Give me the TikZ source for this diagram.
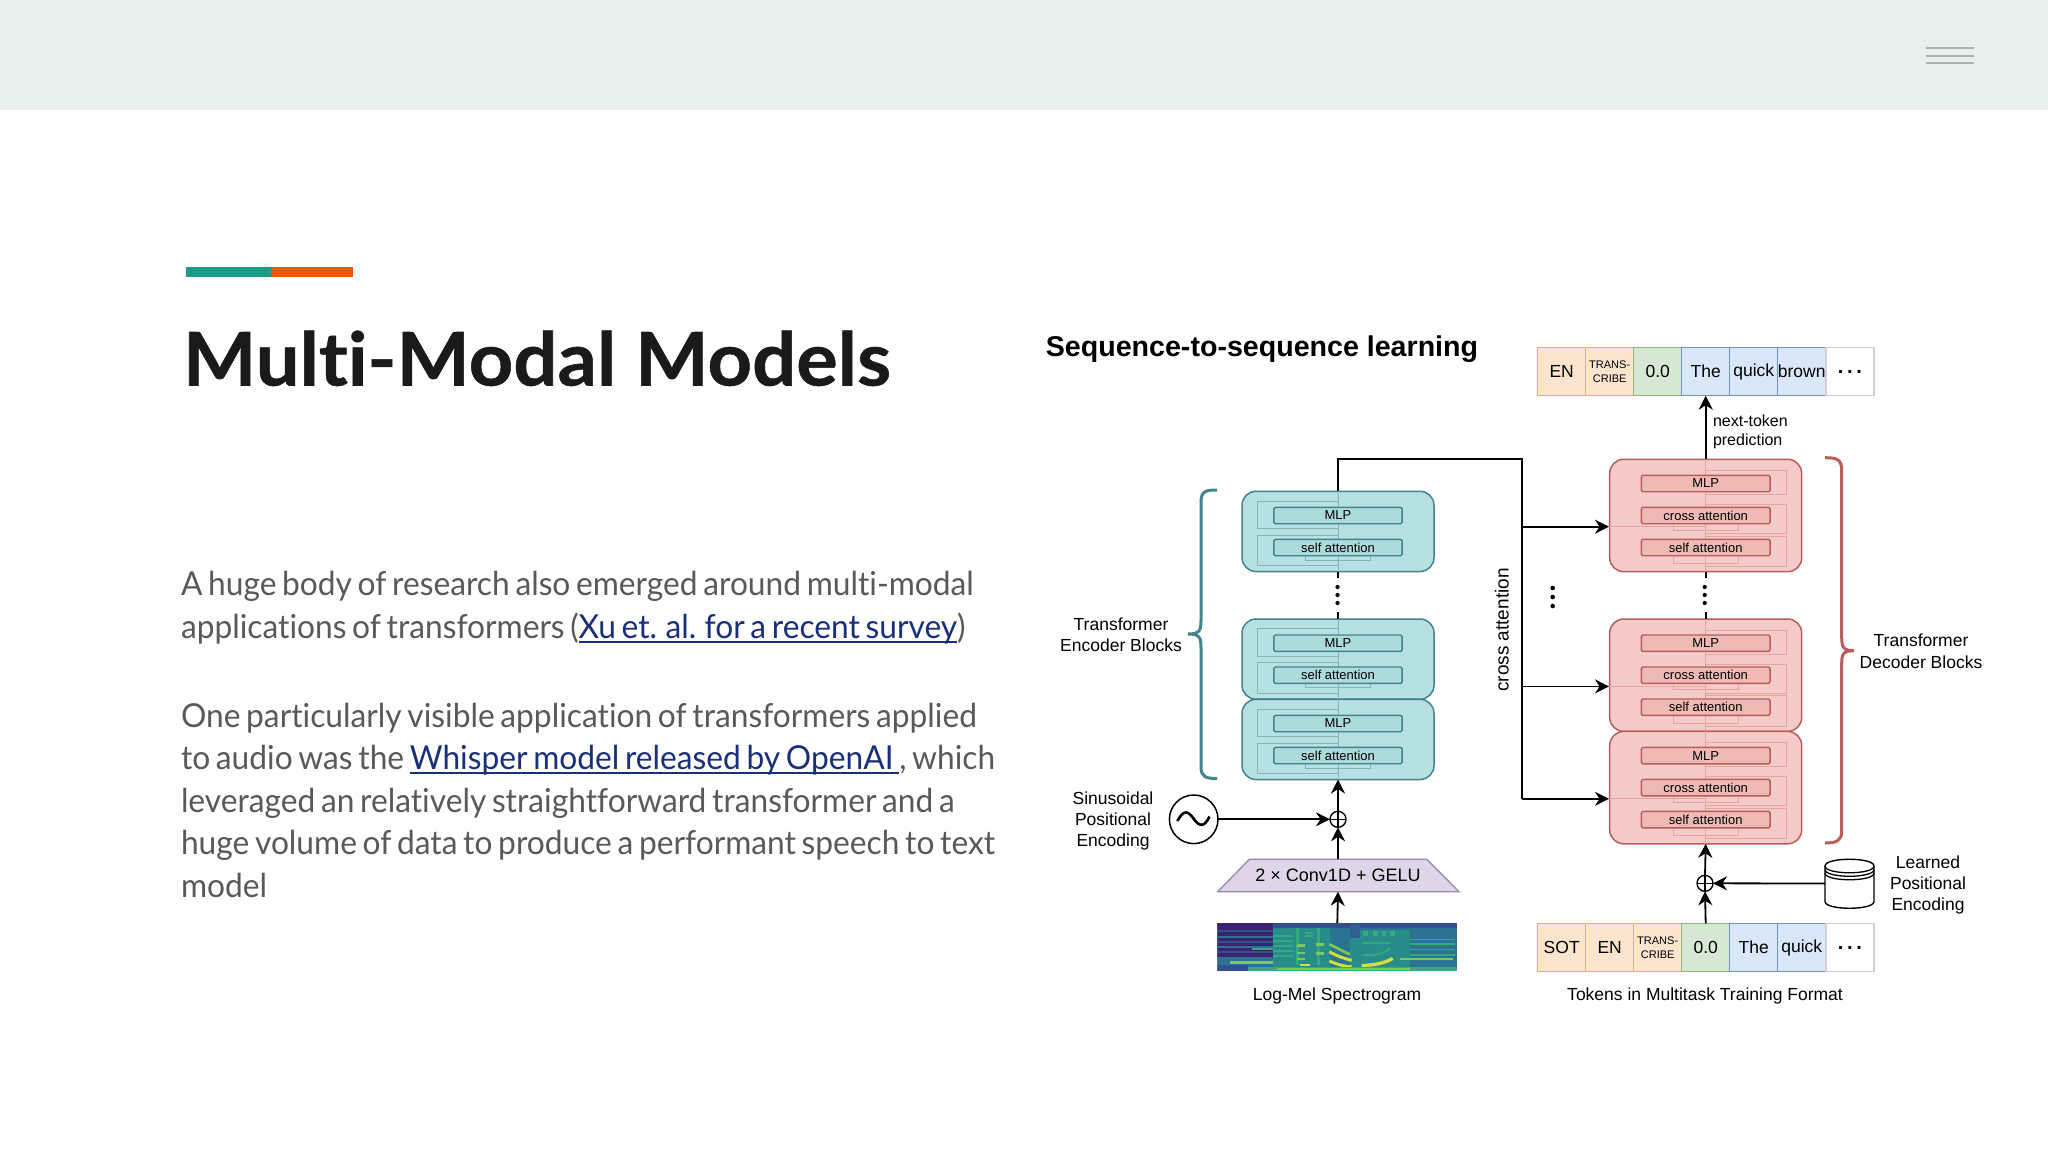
\documentclass[tikz,border=0pt]{standalone}
\usepackage{fontspec}
\setmainfont{Liberation Sans}
\newfontfamily\latof{Lato}[FakeStretch=0.961,WordSpace=0.7,Ligatures=NoCommon]
\newfontfamily\titlef{Lato}[FakeStretch=1.05,Ligatures=NoCommon,BoldFeatures={FakeBold=0.7}]
\usetikzlibrary{arrows.meta,calc}
\definecolor{hdr}{HTML}{E9EFED}
\definecolor{hdrl}{HTML}{AAB3B0}
\definecolor{barg}{HTML}{1A9A88}
\definecolor{baro}{HTML}{E85D04}
\definecolor{bodyc}{HTML}{595959}
\definecolor{lnkc}{HTML}{1A2F7A}
\definecolor{titlec}{HTML}{1A1A1A}
\definecolor{encf}{HTML}{B6E0E1}
\definecolor{encd}{HTML}{41848A}
\definecolor{enci}{HTML}{ADDADB}
\definecolor{encs}{HTML}{84B5B7}
\definecolor{decf}{HTML}{F4CBC9}
\definecolor{decd}{HTML}{B85C5C}
\definecolor{deci}{HTML}{EFB9B6}
\definecolor{decs}{HTML}{E3A4A2}
\definecolor{oranged}{HTML}{E2BB56}\definecolor{orangef}{HTML}{FBE5CE}
\definecolor{greend}{HTML}{8DB878}\definecolor{greenf}{HTML}{D6E8D4}
\definecolor{blued}{HTML}{7592C4}\definecolor{bluef}{HTML}{DAE7FB}
\definecolor{trapf}{HTML}{DFD5E8}\definecolor{trapd}{HTML}{9A88B0}
\definecolor{vA}{HTML}{3B2370}
\definecolor{vB}{HTML}{34508C}
\definecolor{vC}{HTML}{2B7390}
\definecolor{vD}{HTML}{278C8A}
\definecolor{vE}{HTML}{35A97E}
\definecolor{vF}{HTML}{7AC95A}
\definecolor{vG}{HTML}{CFE03A}
\newsavebox\lnkbox
\newcommand\lnktext[1]{\sbox\lnkbox{\textcolor{lnkc}{#1}}\textcolor{lnkc}{\rlap{\rule[-4.6pt]{\wd\lnkbox}{2pt}}}\usebox\lnkbox}
\newcommand\fs[2]{\fontsize{#1}{#2}\selectfont}
\tikzset{
  x=1pt,y=-1pt,
  every node/.style={inner sep=0pt,outer sep=0pt},
  arr/.style={line width=1.8pt,-{Stealth[length=14pt,width=14pt,inset=4.5pt]}},
  conn/.style={line width=1.8pt},
  lab/.style={align=center,font=\fs{17.5}{21}},
  bodyl/.style={anchor=base west,text=bodyc,font=\latof\fs{33}{40}},
  block/.style={rectangle,rounded corners=14pt,line width=1.5pt,minimum width=192pt},
  enc/.style={block,draw=encd,fill=encf,minimum height=80.2pt},
  dec/.style={block,draw=decd,fill=decf,minimum height=112.4pt},
  inner/.style={rectangle,rounded corners=1.5pt,line width=1.4pt,minimum height=16.4pt,font=\fs{13}{15}},
  eni/.style={inner,draw=encd,fill=enci,minimum width=128.3pt},
  dei/.style={inner,draw=decd,fill=deci,minimum width=128.7pt},
  tok/.style={rectangle,minimum width=48pt,minimum height=48.4pt,line width=1.4pt,font=\fs{17.5}{20}},
  tokO/.style={tok,draw=oranged,fill=orangef},
  tokG/.style={tok,draw=greend,fill=greenf},
  tokB/.style={tok,draw=blued,fill=bluef},
  tokW/.style={tok,draw=black!18,fill=white},
  small/.style={font=\fs{11}{14.5},align=center},
  plusn/.style={circle,draw=black,line width=1.4pt,minimum size=16pt,fill=white},
}
\newcommand\tokdots{\raisebox{-3pt}{\bfseries\fs{20}{20}.\kern3.7pt.\kern3.7pt.}}
% #1 name, #2 top y
\newcommand\encblock[2]{%
\begin{scope}[shift={(0,#2)}]
 \node[enc] (#1) at (1338,40.1) {};
 \draw[encs,line width=1pt] (1338,9.7) -- (1257.7,9.7) -- (1257.7,37) -- (1338,37);
 \draw[encs,line width=1pt] (1338,43.7) -- (1257.7,43.7) -- (1257.7,74) -- (1338,74);
 \draw[encs,line width=1pt] (1305.7,64) -- (1305.7,68.7) -- (1370,68.7) -- (1370,64);
 \draw[encs,line width=1pt] (1338,0) -- (1338,80.2);
 \node[eni] (#1m) at (1338,24.2) {MLP};
 \node[eni] (#1s) at (1338,56.2) {self attention};
\end{scope}}
\newcommand\decblock[2]{%
\begin{scope}[shift={(0,#2)}]
 \node[dec] (#1) at (1705.7,56.2) {};
 \draw[decs,line width=1pt] (1705.7,11.4) -| (1786,35.4) -- (1705.7,35.4);
 \draw[decs,line width=1pt] (1705.7,45) -| (1786,74) -- (1705.7,74);
 \draw[decs,line width=1pt] (1705.7,76.7) -| (1786,107.4) -- (1705.7,107.4);
 \draw[decs,line width=1pt] (1673.3,64) -- (1673.3,70.7) -- (1738,70.7) -- (1738,64);
 \draw[decs,line width=1pt] (1673.3,96) -- (1673.3,104) -- (1738,104) -- (1738,96);
 \draw[decs,line width=1pt] (1705.7,0) -- (1705.7,112.4);
 \draw[decs,line width=1pt] (1609,67.4) -- (1705.7,67.4);
 \node[dei] (#1m) at (1705.7,24.2) {MLP};
 \node[dei] (#1c) at (1705.7,56.2) {cross attention};
 \node[dei] (#1s) at (1705.7,88.2) {self attention};
 \coordinate (#1in) at (1609,67.4);
\end{scope}}
\begin{document}
\begin{tikzpicture}
\useasboundingbox (0,0) rectangle (2048,1152);
\fill[white] (0,0) rectangle (2048,1152);
% header
\fill[hdr] (0,0) rectangle (2048,109.7);
\foreach \yy in {48.3,55.7,63.3} \draw[hdrl,line width=2pt] (1926,\yy) -- (1974,\yy);
% accent bar
\fill[barg] (185.7,266.7) rectangle (270.5,277.3);
\fill[baro] (270.5,266.7) rectangle (353,277.3);
% title
\node[anchor=base west,text=titlec,font=\titlef\bfseries\fs{74}{80}] (title) at (183,385.5) {Multi-Modal Models};
% body
\node[bodyl] (b1) at (181,595.5) {A huge body of research also emerged around multi-modal};
\node[bodyl] (b2) at (181,638.2) {applications of transformers (\lnktext{Xu et. al. for a recent survey})};
\node[bodyl] (b3) at (181,727.2) {One particularly visible application of transformers applied};
\node[bodyl] (b4) at (181,769.5) {to audio was the \lnktext{Whisper model released by OpenAI\ }, which};
\node[bodyl] (b5) at (181,812.5) {leveraged an relatively straightforward transformer and a};
\node[bodyl] (b6) at (181,854.8) {huge volume of data to produce a performant speech to text};
\node[bodyl] (b7) at (181,897.5) {model};
% diagram title
\node[anchor=center,font=\bfseries\fs{28.6}{30}] (dtitle) at (1262,349) {Sequence-to-sequence learning};
% tokens top
\node[tokO] (a1) at (1561.7,371.5) {EN};
\node[tokO,small] (a2) at (1609.7,371.5) {TRANS-\\CRIBE};
\node[tokG] (a3) at (1657.7,371.5) {0.0};
\node[tokB] (a4) at (1705.7,371.5) {The};
\node[tokB] (a5) at (1753.7,371.5) {quick};
\node[tokB] (a6) at (1801.7,371.5) {brown};
\node[tokW] (a7) at (1849.9,371.5) {\tokdots};
% tokens bottom
\node[tokO] (c1) at (1561.7,947.5) {SOT};
\node[tokO] (c2) at (1609.7,947.5) {EN};
\node[tokO,small] (c3) at (1657.7,947.5) {TRANS-\\CRIBE};
\node[tokG] (c4) at (1705.7,947.5) {0.0};
\node[tokB] (c5) at (1753.7,947.5) {The};
\node[tokB] (c6) at (1801.7,947.5) {quick};
\node[tokW] (c7) at (1849.9,947.5) {\tokdots};
% encoder
\encblock{e1}{491.3}
\encblock{e2}{619}
\encblock{e3}{699.3}
% decoder
\decblock{d1}{459.3}
\decblock{d2}{619}
\decblock{d3}{731.4}
% bus
\coordinate (busTL) at (1338,459.3);
\coordinate (busTR) at (1522,459.3);
\coordinate (busB) at (busTR |- d3in);
\draw[conn,line join=miter] (e1.north) -- (busTL) -- (busTR) -- (busB);
\draw[arr] (busTR |- d1in) -- (d1in);
\draw[arr] (busTR |- d2in) -- (d2in);
\draw[arr] (busB) -- (d3in);
% between-block dots
\coordinate (e12a) at (1338,578); \coordinate (e12b) at (1338,612);
\draw[conn] (e1.south) -- (e12a);
\draw[conn] (e12b) -- (e2.north);
\coordinate (d12a) at (1705.7,578); \coordinate (d12b) at (1705.7,612);
\draw[conn] (d1.south) -- (d12a);
\draw[conn] (d12b) -- (d2.north);
\foreach \yy in {587,595,603} {\fill (1337.5,\yy) circle (2.1); \fill (1704.7,\yy) circle (2.1);}
\foreach \yy in {588,597,606} \fill (1552.7,\yy) circle (2.3);
% braces
\draw[color=encd,line width=3pt] (1217,490) .. controls (1206,490) and (1201,491) .. (1201,502)
  -- (1201,620) .. controls (1201,630) and (1200,634) .. (1188,634)
  .. controls (1200,634) and (1201,638) .. (1201,648)
  -- (1201,767) .. controls (1201,777) and (1206,778.5) .. (1217,778.5);
\draw[color=decd,line width=3pt] (1825,457.7) .. controls (1836,457.7) and (1841.7,459) .. (1841.7,470)
  -- (1841.7,637) .. controls (1841.7,647) and (1843,650.7) .. (1854,650.7)
  .. controls (1843,650.7) and (1841.7,654) .. (1841.7,664)
  -- (1841.7,831) .. controls (1841.7,841) and (1836,843) .. (1825,843);
% labels
\node[lab] (lenc) at (1121,635) {Transformer\\Encoder Blocks};
\node[lab,font=\fs{17.5}{22}] (ldec) at (1921,651.5) {Transformer\\Decoder Blocks};
\node[lab] (lsin) at (1113,820.8) {Sinusoidal\\Positional\\Encoding};
\node[lab] (llrn) at (1928,884.8) {Learned\\Positional\\Encoding};
\node[lab] (lmel) at (1337,996) {Log-Mel Spectrogram};
\node[lab] (ltok) at (1705,996) {Tokens in Multitask Training Format};
\node[lab,rotate=90,font=\fs{19}{21}] (lca) at (1501.7,630) {cross attention};
\node[anchor=west,align=left,font=\fs{16}{19}] (lnext) at (1713,431.5) {next-token\\prediction};
% top arrow
\draw[arr] (d1.north) -- (a4.south);
% encoder input
\node[circle,draw=black,line width=1.5pt,minimum size=48.6pt,fill=white] (sine) at (1193.7,819.3) {};
\draw[line width=2.6pt] (1177.3,821) .. controls (1184,809) and (1188,811) .. (1193.5,818.5) .. controls (1199,826.5) and (1204,828) .. (1209.5,816.5);
\node[plusn] (pe) at (1338,819.3) {};
\draw[line width=1.2pt] (pe.north) -- (pe.south) (pe.west) -- (pe.east);
\draw[draw=trapd,fill=trapf,line width=1.3pt] (1217.7,891.7) -- (1249.3,859.3) -- (1426.7,859.3) -- (1459,891.7) -- cycle;
\node[minimum width=150pt,minimum height=32.4pt,font=\fs{18}{20}] (trap) at (1338,875.5) {2 × Conv1D + GELU};
% spectrogram
\node[minimum width=240pt,minimum height=47.6pt] (spec) at (1337.3,947) {};
\begin{scope}[shift={(1210,915)},xscale=1/3,yscale=1/3]
 \clip (22,25) rectangle (742,167);
 \fill[color=vC] (22,25) rectangle (742,167);
 \fill[color=vB] (22,25) rectangle (742,40);
 \fill[color=vA] (22,25) rectangle (190,125);
 \foreach \yy/\cc in {45/vB,62/vC,78/vB,92/vC,108/vB} \fill[color=\cc] (22,\yy) rectangle (190,\yy+7);
 \fill[color=vC] (22,125) rectangle (60,150);
 \fill[color=vB] (22,150) rectangle (115,167);
 \fill[color=vD] (190,40) rectangle (250,155);
 \foreach \yy in {60,75,90,105,120} \fill[color=vE] (190,\yy) rectangle (250,\yy+5);
 \foreach \yy in {72,85,102,118} \fill[color=vE] (600,\yy) rectangle (735,\yy+4);
 \fill[color=vD] (420,45) rectangle (600,155);
 \fill[color=vD] (250,40) rectangle (360,155);
 \fill[color=vB!50!vC] (420,30) rectangle (450,70);
 \foreach \xx in {258,322} \fill[color=vE] (\xx,40) rectangle (\xx+9,150);
 \foreach \yy in {88,110,128} \fill[color=vF] (260,\yy) rectangle (285,\yy+7);
 \foreach \yy in {85,112} \fill[color=vF] (318,\yy) rectangle (342,\yy+7);
 \foreach \yy in {50,60} \fill[color=vE] (285,\yy) rectangle (310,\yy+6);
 \foreach \xx in {460,490,515,540} \fill[color=vE] (\xx,48) rectangle (\xx+14,62);
 \draw[color=vF,line width=2.6pt] (358,88) .. controls (375,95) and (400,110) .. (420,118);
 \draw[color=vG,line width=3pt] (358,110) .. controls (375,120) and (400,130) .. (425,136);
 \draw[color=vG,line width=3pt] (358,138) .. controls (375,145) and (400,155) .. (425,155);
 \draw[color=vG,line width=3.4pt] (455,152) .. controls (490,150) and (525,145) .. (548,130);
 \draw[color=vE,line width=2pt] (460,120) .. controls (490,122) and (520,118) .. (540,100);
 \draw[color=vE,line width=2pt] (460,85) -- (540,85);
 \fill[color=vF] (60,138) rectangle (190,146);
 \fill[color=vE] (125,100) rectangle (190,106);
 \fill[color=vF] (570,128) rectangle (730,135);
 \fill[color=vG] (270,146) rectangle (300,154);
 \fill[color=vE] (115,155) rectangle (742,167);
 \fill[color=vF] (200,158) rectangle (600,164);
\end{scope}
\draw[arr] (spec.north) -- (trap.south);
\draw[arr] (trap.north) -- (pe.south);
\draw[arr] (pe.north) -- (e3.south);
\draw[arr] (sine.east) -- (pe.west);
% decoder input
\node[plusn] (pd) at (1705,883.3) {};
\draw[line width=1.2pt] (pd.north) -- (pd.south) (pd.west) -- (pd.east);
\node[minimum width=49pt,minimum height=49pt] (cyl) at (1849.5,883.5) {};
\draw[line width=1.4pt,fill=white] (1825,866) -- (1825,901.5) .. controls (1825,910.5) and (1874,910.5) .. (1874,901.5) -- (1874,866) .. controls (1874,857) and (1825,857) .. (1825,866) -- cycle;
\draw[line width=1.3pt] (1825,866) .. controls (1825,875) and (1874,875) .. (1874,866);
\draw[line width=1.3pt] (1825,869.5) .. controls (1825,878.5) and (1874,878.5) .. (1874,869.5);
\draw[line width=1.3pt] (1825,873) .. controls (1825,882) and (1874,882) .. (1874,873);
\draw[arr] (c4.north) -- (pd.south);
\draw[arr] (pd.north) -- (d3.south);
\draw[arr] (cyl.west) -- (pd.east);
\end{tikzpicture}
\end{document}
